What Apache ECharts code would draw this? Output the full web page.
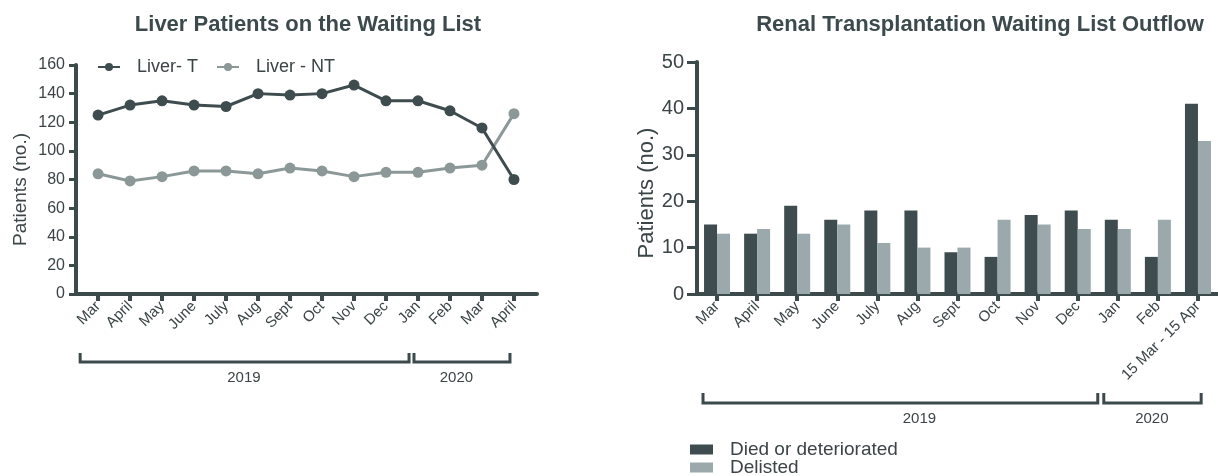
<!DOCTYPE html>
<html>
<head>
<meta charset="utf-8">
<script src="https://cdn.jsdelivr.net/npm/echarts@6/dist/echarts.min.js"></script>
<style>
html,body{margin:0;padding:0;background:#fff;}
#c{width:1218px;height:476px;}
</style>
</head>
<body>
<div id="c"></div>
<script>
// ---- data ----
var liverMonths = ['Mar','April','May','June','July','Aug','Sept','Oct','Nov','Dec','Jan','Feb','Mar','April'];
var liverT  = [125,132,135,132,131,140,139,140,146,135,135,128,116,80];
var liverNT = [84,79,82,86,86,84,88,86,82,85,85,88,90,126];
var liverYTicks = [0,20,40,60,80,100,120,140,160];

var renalMonths = ['Mar','April','May','June','July','Aug','Sept','Oct','Nov','Dec','Jan','Feb','15 Mar - 15 Apr'];
var renalDied     = [15,13,19,16,18,18,9,8,17,18,16,8,41];
var renalDelisted = [13,14,13,15,11,10,10,16,15,14,14,16,33];
var renalYTicks = [0,10,20,30,40,50];

var yearLabels = ['2019','2020'];

// ---- style ----
var AX = '#3d4a4c';
var TXT = '#3b4446';
var DARK = '#3f4c4f';
var LIGHT_LINE = '#8c9898';
var LIGHT_BAR = '#9ba9ac';
var FONT = 'Liberation Sans, Arial, Helvetica, sans-serif';

var chart = echarts.init(document.getElementById('c'), null, {renderer:'canvas'});

var idx = liverMonths.map(function(_, i){ return i; });

var option = {
  animation: false,
  textStyle: {fontFamily: FONT},
  title: [
    {text:'Liver Patients on the Waiting List', left:303, top:9, textAlign:'center',
     textStyle:{fontSize:22, fontWeight:'bold', color:'#3d4a4d', fontFamily:FONT}},
    {text:'Renal Transplantation Waiting List Outflow', left:975, top:9, textAlign:'center',
     textStyle:{fontSize:22, fontWeight:'bold', color:'#3d4a4d', fontFamily:FONT}}
  ],
  legend: [
    {
      data:['Liver- T','Liver - NT'],
      left:97, top:58, padding:0, itemWidth:22, itemHeight:10, itemGap:18,
      textStyle:{fontSize:18, color:TXT, fontFamily:FONT, padding:[0,0,0,12]}
    },
    {
      data:['Died or deteriorated'],
      left:690, top:440, padding:0, itemWidth:23, itemHeight:10,
      icon:'rect',
      textStyle:{fontSize:19, color:TXT, fontFamily:FONT, padding:[0,0,0,12]}
    },
    {
      data:['Delisted'],
      left:690, top:458, padding:0, itemWidth:23, itemHeight:10,
      icon:'rect',
      textStyle:{fontSize:19, color:TXT, fontFamily:FONT, padding:[0,0,0,12]}
    }
  ],
  grid: [
    {left:76, right:681, top:65, bottom:182, containLabel:false},
    {left:697, right:0, top:62, bottom:182, containLabel:false}
  ],
  xAxis: [
    {
      type:'value', gridIndex:0, min:-0.69, max:13.72,
      splitLine:{show:false},
      axisLine:{show:true, onZero:false, lineStyle:{color:AX, width:4}},
      axisTick:{show:true, customValues: idx, length:7, lineStyle:{color:AX, width:4}},
      axisLabel:{show:true, customValues: idx, rotate:45, fontSize:15, color:TXT, margin:10,
        formatter:function(v){ return liverMonths[Math.round(v)]; }}
    },
    {
      type:'category', gridIndex:1, data:renalMonths,
      axisLine:{show:true, lineStyle:{color:AX, width:4}},
      axisTick:{show:true, alignWithLabel:true, length:7, lineStyle:{color:AX, width:4}},
      axisLabel:{rotate:45, fontSize:15, color:TXT, margin:10, interval:0}
    }
  ],
  yAxis: [
    {
      type:'value', gridIndex:0, min:0, max:160, interval:20,
      name:'Patients (no.)', nameLocation:'middle', nameGap:46, nameRotate:90,
      nameTextStyle:{fontSize:19, color:TXT, fontFamily:FONT, padding:[0,20,0,0]},
      splitLine:{show:false},
      axisLine:{show:true, onZero:false, lineStyle:{color:AX, width:4}},
      axisTick:{show:true, length:7, lineStyle:{color:AX, width:3}},
      axisLabel:{fontSize:16, color:TXT, margin:11,
        formatter:function(v){ return liverYTicks.indexOf(v) >= 0 ? String(v) : ''; }}
    },
    {
      type:'value', gridIndex:1, min:0, max:50, interval:10,
      name:'Patients (no.)', nameLocation:'middle', nameGap:38, nameRotate:90,
      nameTextStyle:{fontSize:22, color:TXT, fontFamily:FONT, padding:[0,30,0,0]},
      splitLine:{show:false},
      axisLine:{show:true, onZero:false, lineStyle:{color:AX, width:4}},
      axisTick:{show:true, length:10, lineStyle:{color:AX, width:3}},
      axisLabel:{fontSize:20, color:TXT, margin:13,
        formatter:function(v){ return renalYTicks.indexOf(v) >= 0 ? String(v) : ''; }}
    }
  ],
  series: [
    {
      name:'Liver- T', type:'line', xAxisIndex:0, yAxisIndex:0,
      data: liverT.map(function(v,i){ return [i, v]; }),
      symbol:'circle', symbolSize:11,
      lineStyle:{color:DARK, width:3}, itemStyle:{color:DARK}, z:3
    },
    {
      name:'Liver - NT', type:'line', xAxisIndex:0, yAxisIndex:0,
      data: liverNT.map(function(v,i){ return [i, v]; }),
      symbol:'circle', symbolSize:11,
      lineStyle:{color:LIGHT_LINE, width:3}, itemStyle:{color:LIGHT_LINE}, z:2
    },
    {
      name:'Died or deteriorated', type:'bar', xAxisIndex:1, yAxisIndex:1,
      data: renalDied, barWidth:13, barGap:'0%',
      itemStyle:{color:DARK}
    },
    {
      name:'Delisted', type:'bar', xAxisIndex:1, yAxisIndex:1,
      data: renalDelisted, barWidth:13, barGap:'0%',
      itemStyle:{color:LIGHT_BAR}
    }
  ]
};
chart.setOption(option);

// ---- year brackets, positioned from the axes ----
function leftX(f){ return chart.convertToPixel({xAxisIndex:0}, f); }
function rightX(f){
  var p0 = chart.convertToPixel({xAxisIndex:1}, 0);
  var p1 = chart.convertToPixel({xAxisIndex:1}, 1);
  return p0 + f * (p1 - p0);
}
function bracket(x1, x2, top, y){
  return {type:'polyline', shape:{points:[[x1,top],[x1,y],[x2,y],[x2,top]]},
          style:{stroke:AX, lineWidth:3, fill:null}, silent:true};
}
function label(x, y, t){
  return {type:'text', x:x, y:y, style:{text:t, fill:TXT, font:'15px ' + FONT, align:'center', verticalAlign:'middle'}, silent:true};
}
var g = [];
// left chart: 2019 spans Mar..Dec, 2020 spans Jan..April
g.push(bracket(leftX(-0.56), leftX(9.72), 353, 362));
g.push(bracket(leftX(9.875), leftX(12.875), 353, 362));
g.push(label(leftX(4.56), 378, yearLabels[0]));
g.push(label(leftX(11.2), 378, yearLabels[1]));
// right chart
g.push(bracket(rightX(-0.35), rightX(9.5), 393, 403));
g.push(bracket(rightX(9.65), rightX(12.08), 393, 403));
g.push(label(rightX(5.05), 419, yearLabels[0]));
g.push(label(rightX(10.85), 419, yearLabels[1]));
chart.setOption({graphic: g});
</script>
</body>
</html>
